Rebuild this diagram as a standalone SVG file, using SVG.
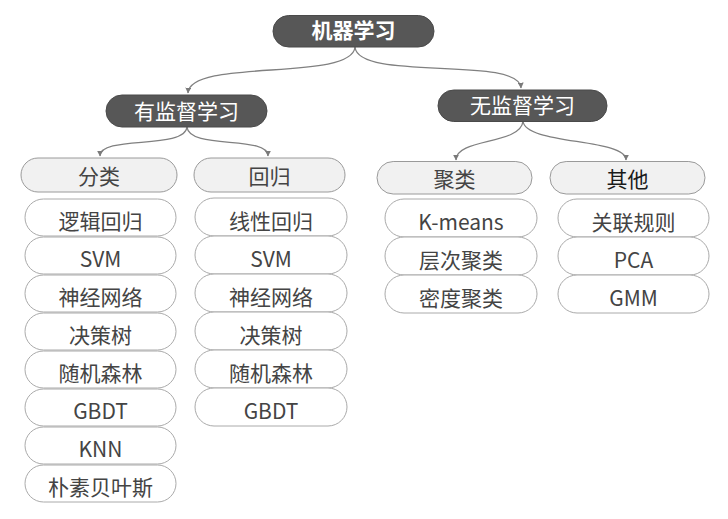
<svg xmlns="http://www.w3.org/2000/svg" width="728" height="519" viewBox="0 0 728 519">
<defs>
<marker id="arr" viewBox="0 0 10 10" refX="9" refY="5" markerWidth="6" markerHeight="6" orient="auto" markerUnits="userSpaceOnUse">
<path d="M0,0 L10,5 L0,10 z" fill="#7a7a7a"/>
</marker>
</defs>
<style>
text{font-family:"Noto Sans CJK SC","Noto Sans",sans-serif;font-size:21px;text-anchor:middle;fill:#444}
.dark rect{fill:#575757;stroke:#4a4a4a;stroke-width:1}
.dark text{fill:#fff;font-size:21px}
.hdr rect{fill:#f1f1f1;stroke:#9a9a9a;stroke-width:1}
.hdr text{font-size:21px}
.leaf rect{fill:#fff;stroke:#aaa;stroke-width:1}
.conn path{fill:none;stroke:#808080;stroke-width:1.3;marker-end:url(#arr)}
</style>
<rect width="728" height="519" fill="#fff"/>
<g class="conn" id="connectors">
<path d="M355,47 C352,82 190,58 188,93"/>
<path d="M355,47 C358,82 519,55 521,88"/>
<path d="M187,127 C185,150 100,135 100,156"/>
<path d="M187,127 C189,150 268,135 268,156"/>
<path d="M523,121 C521,145 456,138 456,160"/>
<path d="M523,121 C525,145 626,138 626,160"/>
</g>
<g class="dark" id="root"><rect x="273" y="15.5" width="161" height="31.5" rx="15.7"/><text x="353.5" y="37.5" font-weight="bold">机器学习</text></g>
<g class="dark" id="supervised"><rect x="106" y="95" width="161" height="32" rx="16"/><text x="186.5" y="118.5">有监督学习</text></g>
<g class="dark" id="unsupervised"><rect x="438" y="90" width="169" height="31.5" rx="15.7"/><text x="522.5" y="113">无监督学习</text></g>
<g class="hdr" id="classification"><rect x="21" y="158" width="156" height="34" rx="17"/><text x="99" y="184">分类</text></g>
<g class="hdr" id="regression"><rect x="194" y="158" width="151" height="34" rx="17"/><text x="269.5" y="184">回归</text></g>
<g class="hdr" id="clustering"><rect x="377" y="161.5" width="155" height="32.5" rx="16.2"/><text x="454.5" y="187">聚类</text></g>
<g class="hdr" id="other"><rect x="550" y="161.5" width="155" height="32.5" rx="16.2"/><text x="627.5" y="187" style="fill:#1a1a1a">其他</text></g>
<g class="leaf" id="c1"><rect x="25" y="199" width="151" height="37" rx="18.5"/><text x="100.5" y="229">逻辑回归</text></g>
<g class="leaf" id="c2"><rect x="25" y="237" width="151" height="37" rx="18.5"/><text x="100.5" y="267">SVM</text></g>
<g class="leaf" id="c3"><rect x="25" y="275" width="151" height="37" rx="18.5"/><text x="100.5" y="305">神经网络</text></g>
<g class="leaf" id="c4"><rect x="25" y="313" width="151" height="37" rx="18.5"/><text x="100.5" y="343">决策树</text></g>
<g class="leaf" id="c5"><rect x="25" y="351" width="151" height="37" rx="18.5"/><text x="100.5" y="381">随机森林</text></g>
<g class="leaf" id="c6"><rect x="25" y="389" width="151" height="37" rx="18.5"/><text x="100.5" y="419">GBDT</text></g>
<g class="leaf" id="c7"><rect x="25" y="427" width="151" height="37" rx="18.5"/><text x="100.5" y="457">KNN</text></g>
<g class="leaf" id="c8"><rect x="25" y="465" width="151" height="37" rx="18.5"/><text x="100.5" y="495">朴素贝叶斯</text></g>
<g class="leaf" id="r1"><rect x="195" y="198" width="152" height="38" rx="19"/><text x="271" y="228.5">线性回归</text></g>
<g class="leaf" id="r2"><rect x="195" y="236" width="152" height="38" rx="19"/><text x="271" y="266.5">SVM</text></g>
<g class="leaf" id="r3"><rect x="195" y="274" width="152" height="38" rx="19"/><text x="271" y="304.5">神经网络</text></g>
<g class="leaf" id="r4"><rect x="195" y="312" width="152" height="38" rx="19"/><text x="271" y="342.5">决策树</text></g>
<g class="leaf" id="r5"><rect x="195" y="350" width="152" height="38" rx="19"/><text x="271" y="380.5">随机森林</text></g>
<g class="leaf" id="r6"><rect x="195" y="388" width="152" height="38" rx="19"/><text x="271" y="418.5">GBDT</text></g>
<g class="leaf" id="k1"><rect x="385" y="199" width="152" height="38" rx="19"/><text x="461" y="229.5">K-means</text></g>
<g class="leaf" id="k2"><rect x="385" y="237" width="152" height="38" rx="19"/><text x="461" y="267.5">层次聚类</text></g>
<g class="leaf" id="k3"><rect x="385" y="275" width="152" height="38" rx="19"/><text x="461" y="305.5">密度聚类</text></g>
<g class="leaf" id="o1"><rect x="558" y="199" width="151" height="38" rx="19"/><text x="633.5" y="229.5">关联规则</text></g>
<g class="leaf" id="o2"><rect x="558" y="237" width="151" height="38" rx="19"/><text x="633.5" y="267.5">PCA</text></g>
<g class="leaf" id="o3"><rect x="558" y="275" width="151" height="38" rx="19"/><text x="633.5" y="305.5">GMM</text></g>
</svg>
